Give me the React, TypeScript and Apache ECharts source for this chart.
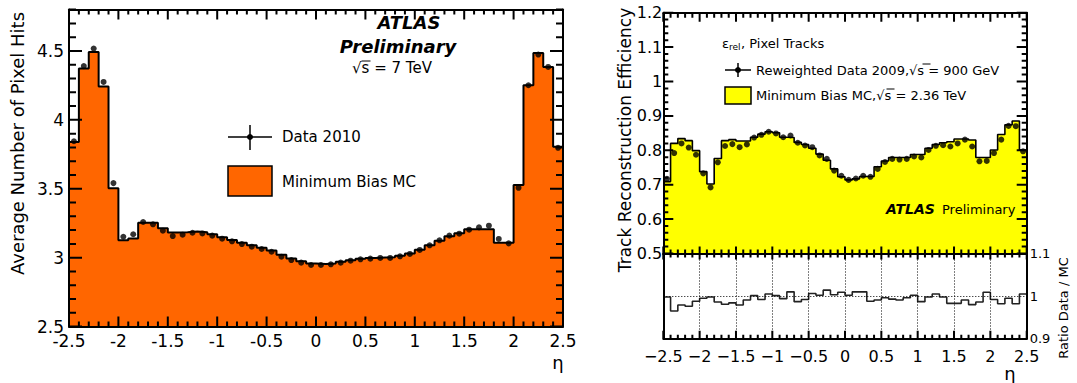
import React, { useEffect, useRef } from 'react';
import * as echarts from 'echarts';

// ---- data ----
const etaEdges = Array.from({ length: 51 }, (_, i) => Math.round((-2.5 + i * 0.1) * 10) / 10);

const pixelHitsData = [
  3.845, 4.39, 4.517, 4.275, 3.541, 3.152, 3.17, 3.259, 3.242, 3.196,
  3.157, 3.167, 3.181, 3.176, 3.16, 3.138, 3.119, 3.099, 3.08, 3.063,
  3.043, 3.007, 2.983, 2.964, 2.947, 2.947, 2.952, 2.964, 2.978, 2.988,
  2.993, 2.998, 2.998, 3.01, 3.027, 3.056, 3.09, 3.126, 3.16, 3.174,
  3.203, 3.22, 3.232, 3.136, 3.104, 3.507, 4.251, 4.474, 4.384, 3.797,
];
const pixelHitsMC = [
  3.84, 4.372, 4.493, 4.242, 3.503, 3.126, 3.14, 3.254, 3.254, 3.213,
  3.183, 3.185, 3.19, 3.185, 3.17, 3.148, 3.128, 3.108, 3.09, 3.072,
  3.052, 3.022, 2.995, 2.975, 2.958, 2.955, 2.958, 2.97, 2.982, 2.992,
  2.998, 3.002, 3.003, 3.014, 3.03, 3.058, 3.09, 3.123, 3.155, 3.177,
  3.206, 3.206, 3.206, 3.109, 3.109, 3.527, 4.251, 4.486, 4.384, 3.804,
];
const effData = [
  0.717, 0.792, 0.82, 0.808, 0.787, 0.733, 0.692, 0.765, 0.8125, 0.818,
  0.809, 0.817, 0.837, 0.845, 0.854, 0.849, 0.838, 0.843, 0.822, 0.814,
  0.809, 0.785, 0.775, 0.741, 0.726, 0.714, 0.718, 0.726, 0.723, 0.746,
  0.766, 0.775, 0.773, 0.775, 0.782, 0.779, 0.801, 0.813, 0.815, 0.811,
  0.82, 0.831, 0.811, 0.768, 0.769, 0.792, 0.831, 0.871, 0.87, 0.797,
];
const effMC = [
  0.709, 0.82, 0.834, 0.828, 0.799, 0.738, 0.702, 0.776, 0.828, 0.831,
  0.827, 0.827, 0.838, 0.847, 0.854, 0.851, 0.838, 0.837, 0.823, 0.817,
  0.806, 0.789, 0.771, 0.746, 0.723, 0.714, 0.717, 0.724, 0.724, 0.752,
  0.769, 0.779, 0.779, 0.779, 0.788, 0.788, 0.806, 0.817, 0.822, 0.825,
  0.833, 0.833, 0.83, 0.779, 0.779, 0.801, 0.846, 0.874, 0.885, 0.801,
];
const ratioDataMC = [
  0.998, 0.965, 0.979, 0.976, 0.988, 0.995, 0.998, 0.986, 0.981, 0.984,
  0.979, 0.991, 1.001, 0.992, 1.005, 1.001, 0.994, 1.01, 0.987, 0.992,
  1.006, 1.002, 1.014, 1.003, 1.009, 1.002, 1.01, 1.01, 0.988, 0.991,
  0.996, 0.993, 0.991, 0.996, 1.002, 0.987, 0.998, 1.005, 0.998, 0.983,
  0.983, 0.991, 0.98, 0.986, 1.009, 0.992, 0.982, 0.995, 0.982, 1.005,
];

const leftXLabels = ['-2.5', '-2', '-1.5', '-1', '-0.5', '0', '0.5', '1', '1.5', '2', '2.5'];
const rightXLabels = ['\u22122.5', '\u22122', '\u22121.5', '\u22121', '\u22120.5', '0', '0.5', '1', '1.5', '2', '2.5'];
const leftYLabels = ['2.5', '3', '3.5', '4', '4.5'];
const effYLabels = ['0.5', '0.6', '0.7', '0.8', '0.9', '1', '1.1', '1.2'];
const ratioYLabels = ['0.9', '1', '1.1'];

// tick positions (every 5th is a major tick)
const etaTickValues = etaEdges;
const hitsTickValues = Array.from({ length: 24 }, (_, i) => Math.round((2.5 + i * 0.1) * 100) / 100);
const effTickValues = Array.from({ length: 36 }, (_, i) => Math.round((0.5 + i * 0.02) * 1000) / 1000);

const stepData = (vals: number[]) =>
  vals.map((v, i) => [etaEdges[i], v]).concat([[etaEdges[vals.length], vals[vals.length - 1]]]);
const centerData = (vals: number[]) =>
  vals.map((v, i) => [(etaEdges[i] + etaEdges[i + 1]) / 2, v]);

const FONT = 'DejaVu Sans';

// panel frames (layout)
const G = [
  { left: 69, top: 9.6, width: 494, height: 317, ymin: 2.5, ymax: 4.8 },
  { left: 663.3, top: 12.7, width: 363.4, height: 240.8, ymin: 0.5, ymax: 1.2 },
  { left: 663.3, top: 253.5, width: 363.4, height: 85.2, ymin: 0.9, ymax: 1.1 },
];

// ROOT-style inward tick marks along each panel frame, as one path
function tickPath(): string {
  const parts: string[] = [];
  const f = (n: number) => n.toFixed(2);
  const line = (x1: number, y1: number, x2: number, y2: number) =>
    parts.push(`M${f(x1)} ${f(y1)}L${f(x2)} ${f(y2)}`);
  const addX = (g: any, bottom: number[], top: number[]) => {
    const yb = g.top + g.height;
    const yt = g.top;
    etaTickValues.forEach((v, i) => {
      const x = g.left + ((v + 2.5) / 5) * g.width;
      const major = i % 5 === 0;
      line(x, yb, x, yb - (major ? bottom[0] : bottom[1]));
      line(x, yt, x, yt + (major ? top[0] : top[1]));
    });
  };
  const addY = (g: any, values: number[], left: number[], right: number[]) => {
    const xl = g.left;
    const xr = g.left + g.width;
    values.forEach((v, i) => {
      const y = g.top + g.height - ((v - g.ymin) / (g.ymax - g.ymin)) * g.height;
      const major = i % 5 === 0;
      line(xl, y, xl + (major ? left[0] : left[1]), y);
      line(xr, y, xr - (major ? right[0] : right[1]), y);
    });
  };
  addX(G[0], [10, 5], [10, 5]);
  addY(G[0], hitsTickValues, [13, 7], [13, 7]);
  addX(G[1], [7, 4], [9, 5]);
  addY(G[1], effTickValues, [10, 5], [10, 5]);
  addX(G[2], [8, 4], [6, 4]);
  return parts.join('');
}

let ticksRegistered = false;
try {
  echarts.graphic.registerShape('rootTicks', echarts.graphic.extendPath(tickPath(), {}) as any);
  ticksRegistered = true;
} catch (e) {
  ticksRegistered = false;
}

function axis(gridIndex: number, position: string, min: number, max: number, interval: number, o: any) {
  return {
    type: 'value',
    gridIndex,
    position,
    min,
    max,
    interval,
    z: 5,
    axisLine: { show: true, onZero: false, lineStyle: { color: '#000', width: 2 } },
    axisTick: { show: false },
    minorTick: { show: false },
    axisLabel: o.labels
      ? {
          show: true,
          color: '#000',
          fontFamily: FONT,
          fontSize: o.fontSize,
          margin: o.margin,
          showMinLabel: true,
          showMaxLabel: true,
          formatter: (v: number) => {
            const k = Math.round((v - min) / interval);
            if (Math.abs(min + k * interval - v) > 1e-6) return '';
            return o.labels[k] ?? '';
          },
        }
      : { show: false },
    splitLine: o.splitLine || { show: false },
  };
}

const txt = (x: number, y: number, text: string, s: any = {}, rotation = 0) => ({
  type: 'text',
  x,
  y,
  rotation,
  z: 20,
  style: {
    text,
    fill: '#000',
    fontFamily: FONT,
    fontSize: 15,
    align: 'left',
    verticalAlign: 'middle',
    ...s,
  },
});
const seg = (x1: number, y1: number, x2: number, y2: number, w = 1.5) => ({
  type: 'line',
  z: 20,
  shape: { x1, y1, x2, y2 },
  style: { stroke: '#000', lineWidth: w },
});

export default function App() {
  const ref = useRef<HTMLDivElement>(null);
  useEffect(() => {
    if (!ref.current) return;
    const chart = echarts.init(ref.current, null, { renderer: 'svg' });
    const dotted = { show: true, lineStyle: { color: '#000', type: [1, 2], width: 1 } };
    const labels: any[] = [
      // left panel titles
      txt(17.5, 143.5, 'Average Number of Pixel Hits', { fontSize: 18, align: 'center' }, Math.PI / 2),
      txt(558, 362, 'η', { fontSize: 18, align: 'center' }),
      txt(409, 22, 'ATLAS', { fontSize: 18, fontWeight: 'bold', fontStyle: 'italic', align: 'center' }),
      txt(398, 46, 'Preliminary', { fontSize: 18, fontWeight: 'bold', fontStyle: 'italic', align: 'center' }),
      txt(392, 68, '√s = 7 TeV', { fontSize: 15, align: 'center' }),
      seg(361.5, 61, 370.5, 61, 1),
      // left legend
      seg(228, 137, 272, 137),
      seg(250, 125, 250, 150),
      { type: 'circle', z: 21, shape: { cx: 250, cy: 137, r: 3 }, style: { fill: '#000' } },
      txt(282, 137, 'Data 2010', { fontSize: 15 }),
      { type: 'rect', z: 20, shape: { x: 228, y: 166, width: 44, height: 30 }, style: { fill: '#ff6600', stroke: '#000', lineWidth: 1.5 } },
      txt(282, 182, 'Minimum Bias MC', { fontSize: 15 }),
      // right panel titles
      txt(625, 140, 'Track Reconstruction Efficiency', { fontSize: 17, align: 'center' }, Math.PI / 2),
      txt(1063, 308, 'Ratio Data / MC', { fontSize: 13, align: 'center' }, Math.PI / 2),
      txt(1010, 373, 'η', { fontSize: 18, align: 'center' }),
      // right legend
      txt(722, 43, 'ε', { fontSize: 13 }),
      txt(729, 47, 'rel', { fontSize: 9 }),
      txt(741, 43, ', Pixel Tracks', { fontSize: 13 }),
      seg(725, 70, 751, 70),
      seg(738, 63, 738, 77),
      { type: 'circle', z: 21, shape: { cx: 738, cy: 70, r: 3 }, style: { fill: '#000' } },
      txt(756, 70, 'Reweighted Data 2009,√s = 900 GeV', { fontSize: 13 }),
      seg(922.5, 64, 930.5, 64, 1),
      { type: 'rect', z: 20, shape: { x: 725, y: 87, width: 26, height: 17 }, style: { fill: '#ffff00', stroke: '#000', lineWidth: 1.5 } },
      txt(756, 95, 'Minimum Bias MC,√s = 2.36 TeV', { fontSize: 13 }),
      seg(886.5, 89, 894.5, 89, 1),
      txt(886, 209, 'ATLAS', { fontSize: 14, fontWeight: 'bold', fontStyle: 'italic' }),
      txt(942, 209, 'Preliminary', { fontSize: 13 }),
    ];
    if (ticksRegistered) {
      labels.push({
        type: 'rootTicks', z: 25, x: 0, y: 0, scaleX: 1, scaleY: 1, silent: true,
        style: { stroke: '#000', lineWidth: 2, fill: 'none' },
      });
    }
    const option: any = {
      animation: false,
      backgroundColor: '#fff',
      textStyle: { fontFamily: FONT },
      grid: G.map((g) => ({
        left: g.left, top: g.top, width: g.width, height: g.height,
        containLabel: false, outerBoundsMode: 'none',
      })),
      xAxis: [
        axis(0, 'bottom', -2.5, 2.5, 0.5, { labels: leftXLabels, fontSize: 17, margin: 6 }),
        axis(1, 'bottom', -2.5, 2.5, 0.5, {}),
        axis(2, 'bottom', -2.5, 2.5, 0.5, { labels: rightXLabels, fontSize: 16, margin: 10, splitLine: dotted }),
        axis(0, 'top', -2.5, 2.5, 0.5, {}),
        axis(1, 'top', -2.5, 2.5, 0.5, {}),
        axis(2, 'top', -2.5, 2.5, 0.5, {}),
      ],
      yAxis: [
        axis(0, 'left', 2.5, 4.8, 0.5, { labels: leftYLabels, fontSize: 17, margin: 5 }),
        axis(1, 'left', 0.5, 1.2, 0.1, { labels: effYLabels, fontSize: 16, margin: 1 }),
        axis(2, 'right', 0.9, 1.1, 0.1, { labels: ratioYLabels, fontSize: 13, margin: 3, splitLine: dotted }),
        axis(0, 'right', 2.5, 4.8, 0.5, {}),
        axis(1, 'right', 0.5, 1.2, 0.1, {}),
        axis(2, 'left', 0.9, 1.1, 0.1, {}),
      ],
      series: [
        {
          type: 'line', xAxisIndex: 0, yAxisIndex: 0, step: 'end', symbol: 'none', z: 2,
          data: stepData(pixelHitsMC),
          lineStyle: { color: '#000', width: 2 },
          areaStyle: { color: '#ff6600', opacity: 1, origin: 'start' },
        },
        {
          type: 'scatter', xAxisIndex: 0, yAxisIndex: 0, symbol: 'circle', symbolSize: 6, z: 6,
          itemStyle: { color: '#000' }, data: centerData(pixelHitsData),
        },
        {
          type: 'line', xAxisIndex: 1, yAxisIndex: 1, step: 'end', symbol: 'none', z: 2,
          data: stepData(effMC),
          lineStyle: { color: '#000', width: 1.6 },
          areaStyle: { color: '#ffff00', opacity: 1, origin: 'start' },
        },
        {
          type: 'scatter', xAxisIndex: 1, yAxisIndex: 1, symbol: 'circle', symbolSize: 6, z: 6,
          itemStyle: { color: '#000' }, data: centerData(effData),
        },
        {
          type: 'line', xAxisIndex: 2, yAxisIndex: 2, step: 'end', symbol: 'none', z: 3,
          data: stepData(ratioDataMC),
          lineStyle: { color: '#222', width: 1.6 },
        },
      ],
      graphic: labels,
    };
    chart.setOption(option);
    return () => chart.dispose();
  }, []);
  return <div ref={ref} style={{ position: 'absolute', left: 0, top: 0, width: 1077, height: 383 }} />;
}
